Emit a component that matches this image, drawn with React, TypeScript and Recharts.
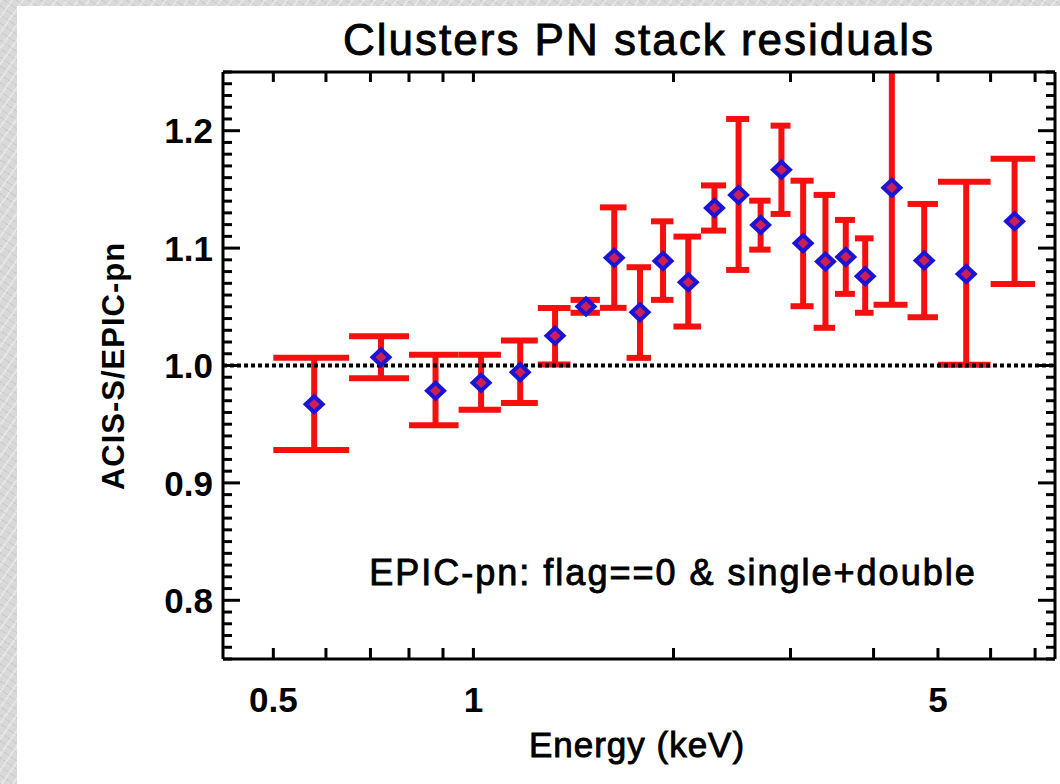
import React from 'react';
import {
  ScatterChart,
  Scatter,
  XAxis,
  YAxis,
  ReferenceLine,
} from 'recharts';

// Colours picked off the IDL plot
const RED = '#f50f0f';
const BLUE = '#1a14d6';
const DOT_FILL = '#cc1f55';
const INK = '#000';
const FONT = '"Liberation Sans", Arial, Helvetica, sans-serif';

// Bin centres (keV), measured ratios and 1-sigma limits
const energy = [0.576, 0.726, 0.877, 1.027, 1.176, 1.327, 1.477, 1.629, 1.781, 1.929, 2.105, 2.305, 2.506, 2.705, 2.907, 3.134, 3.386, 3.633, 3.886, 4.262, 4.767, 5.514, 6.52];
const binLo = [0.5, 0.65, 0.8, 0.95, 1.1, 1.25, 1.4, 1.55, 1.7, 1.85, 2.0, 2.2, 2.4, 2.6, 2.8, 3.0, 3.25, 3.5, 3.75, 4.0, 4.5, 5.0, 6.0];
const binHi = [0.65, 0.8, 0.95, 1.1, 1.25, 1.4, 1.55, 1.7, 1.85, 2.0, 2.2, 2.4, 2.6, 2.8, 3.0, 3.25, 3.5, 3.75, 4.0, 4.5, 5.0, 6.0, 7.0];
const ratio = [0.967, 1.007, 0.9785, 0.9853, 0.9943, 1.0253, 1.0502, 1.0917, 1.0454, 1.0891, 1.0709, 1.1342, 1.1453, 1.1197, 1.1668, 1.1041, 1.0885, 1.0925, 1.076, 1.1515, 1.0894, 1.078, 1.1228];
const errTop = [1.0066, 1.0249, 1.0091, 1.0091, 1.0213, 1.049, 1.0559, 1.1347, 1.0837, 1.1228, 1.1098, 1.1534, 1.21, 1.1404, 1.2043, 1.1574, 1.1453, 1.124, 1.1083, 1.252, 1.1376, 1.1566, 1.1762];
const errBot = [0.928, 0.9892, 0.949, 0.9623, 0.968, 1.0009, 1.0449, 1.0491, 1.0065, 1.0559, 1.0332, 1.1149, 1.0814, 1.0987, 1.1291, 1.0505, 1.0321, 1.061, 1.0449, 1.0517, 1.0411, 1.0006, 1.0695];

// Axes
const X_DOMAIN = [0.42, 7.5];
const Y_DOMAIN = [0.75, 1.25];
const xTicks = [0.5, 0.6, 0.7, 0.8, 0.9, 1, 2, 3, 4, 5, 6, 7];
const xTickLabels: Record<string, string> = { '0.5': '0.5', '1': '1', '5': '5' };
const yMajor = [0.8, 0.9, 1.0, 1.1, 1.2];
const yMajorLabels = ['0.8', '0.9', '1.0', '1.1', '1.2'];
// minor ticks every 0.01 across the range
const yTicks = Array.from({ length: 51 }, (_, i) => Math.round((0.75 + i * 0.01) * 100) / 100);

const points = energy.map((e, i) => ({ energy: e, ratio: ratio[i] }));

function yLabelFor(v: number): string | null {
  const idx = yMajor.findIndex(m => Math.abs(m - v) < 1e-6);
  return idx >= 0 ? yMajorLabels[idx] : null;
}

function BottomTick({ x, y, payload }: any) {
  const label = xTickLabels[String(payload.value)];
  return (
    <g>
      <line x1={x} y1={y} x2={x} y2={y - 11} stroke={INK} strokeWidth={3} />
      {label && (
        <text x={x} y={y + 53} textAnchor="middle" fontFamily={FONT} fontWeight="bold" fontSize={35} fill={INK}>
          {label}
        </text>
      )}
    </g>
  );
}

function TopTick({ x, y }: any) {
  return <line x1={x} y1={y} x2={x} y2={y + 10} stroke={INK} strokeWidth={3} />;
}

function LeftTick({ x, y, payload }: any) {
  const label = yLabelFor(payload.value);
  return (
    <g>
      <line x1={x} y1={y} x2={x + (label ? 17 : 9)} y2={y} stroke={INK} strokeWidth={3} />
      {label && (
        <text x={x - 10} y={y} dy="0.36em" textAnchor="end" fontFamily={FONT} fontWeight="bold" fontSize={35} fill={INK}>
          {label}
        </text>
      )}
    </g>
  );
}

function RightTick({ x, y, payload }: any) {
  const major = yLabelFor(payload.value) !== null;
  return <line x1={x} y1={y} x2={x - (major ? 17 : 9)} y2={y} stroke={INK} strokeWidth={3} />;
}

function Diamond({ cx, cy }: any) {
  const w = 8.5;
  const h = 8;
  return (
    <polygon
      points={`${cx},${cy - h} ${cx + w},${cy} ${cx},${cy + h} ${cx - w},${cy}`}
      fill={DOT_FILL}
      stroke={BLUE}
      strokeWidth={4}
      strokeLinejoin="miter"
    />
  );
}

const texture =
  'repeating-linear-gradient(125deg, rgba(255,255,255,0.35) 0 2px, rgba(0,0,0,0) 2px 9px),' +
  'repeating-linear-gradient(35deg, rgba(160,160,160,0.25) 0 1px, rgba(0,0,0,0) 1px 7px), #d9d9d9';

export default function App() {
  return (
    <div style={{ position: 'absolute', left: 0, top: 0, width: 1060, height: 784, overflow: 'hidden', background: texture }}>
      <div style={{ position: 'absolute', left: 17, top: 6, right: 0, bottom: 0, background: '#fff' }} />

      <div style={{ position: 'absolute', left: 0, top: 0 }}>
        <ScatterChart width={1060} height={784} margin={{ top: 71, right: 0, bottom: 0, left: 0 }}>
          <XAxis
            dataKey="energy"
            type="number"
            scale="log"
            domain={X_DOMAIN}
            allowDataOverflow
            ticks={xTicks}
            interval={0}
            height={125}
            tickSize={0}
            tickMargin={0}
            axisLine={{ stroke: INK, strokeWidth: 3 }}
            tickLine={false}
            tick={<BottomTick />}
          />
          <XAxis
            xAxisId="t"
            orientation="top"
            dataKey="energy"
            type="number"
            scale="log"
            domain={X_DOMAIN}
            allowDataOverflow
            ticks={xTicks}
            interval={0}
            height={1}
            tickSize={0}
            tickMargin={0}
            axisLine={{ stroke: INK, strokeWidth: 3 }}
            tickLine={false}
            tick={<TopTick />}
          />
          <YAxis
            dataKey="ratio"
            type="number"
            domain={Y_DOMAIN}
            allowDataOverflow
            ticks={yTicks}
            interval={0}
            width={223}
            tickSize={0}
            tickMargin={0}
            axisLine={{ stroke: INK, strokeWidth: 3 }}
            tickLine={false}
            tick={<LeftTick />}
          />
          <YAxis
            yAxisId="r"
            orientation="right"
            dataKey="ratio"
            type="number"
            domain={Y_DOMAIN}
            allowDataOverflow
            ticks={yTicks}
            interval={0}
            width={5}
            tickSize={0}
            tickMargin={0}
            axisLine={{ stroke: INK, strokeWidth: 3 }}
            tickLine={false}
            tick={<RightTick />}
          />

          {/* error bars: vertical span plus caps across the bin width */}
          {energy.map((e, i) => (
            <ReferenceLine key={`v${i}`} segment={[{ x: e, y: errBot[i] }, { x: e, y: errTop[i] }]} stroke={RED} strokeWidth={6} ifOverflow="hidden" />
          ))}
          {energy.map((_, i) => (
            <ReferenceLine key={`t${i}`} segment={[{ x: binLo[i], y: errTop[i] }, { x: binHi[i], y: errTop[i] }]} stroke={RED} strokeWidth={6} ifOverflow="hidden" />
          ))}
          {energy.map((_, i) => (
            <ReferenceLine key={`b${i}`} segment={[{ x: binLo[i], y: errBot[i] }, { x: binHi[i], y: errBot[i] }]} stroke={RED} strokeWidth={6} ifOverflow="hidden" />
          ))}

          <ReferenceLine y={1} stroke={INK} strokeWidth={4} strokeDasharray="4 3" />

          <Scatter data={points} shape={<Diamond />} isAnimationActive={false} />
        </ScatterChart>
      </div>

      <svg width={1060} height={784} style={{ position: 'absolute', left: 0, top: 0, pointerEvents: 'none' }}>
        <g fill={INK} stroke={INK} strokeWidth={0.9} fontFamily={FONT}>
          <text x={639} y={55} textAnchor="middle" fontSize={44} letterSpacing={2}>
            Clusters PN stack residuals
          </text>
          <text x={673} y={585} textAnchor="middle" fontSize={36} letterSpacing={2}>
            EPIC-pn: flag==0 &amp; single+double
          </text>
          <text x={637} y={757} textAnchor="middle" fontSize={35} letterSpacing={1}>
            Energy (keV)
          </text>
          <text
            x={0}
            y={0}
            transform="translate(124,366) rotate(-90)"
            textAnchor="middle"
            fontWeight="bold"
            fontSize={31}
            letterSpacing={1}
            strokeWidth={0}
          >
            ACIS-S/EPIC-pn
          </text>
        </g>
      </svg>
    </div>
  );
}
